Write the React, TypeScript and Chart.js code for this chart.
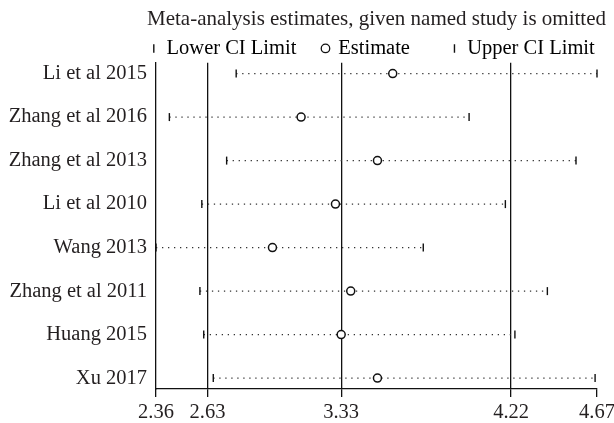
import React, { useEffect, useRef } from "react";
import { Chart, registerables } from "chart.js";

Chart.register(...registerables);

const studies = [
  "Li et al 2015",
  "Zhang et al 2016",
  "Zhang et al 2013",
  "Li et al 2010",
  "Wang 2013",
  "Zhang et al 2011",
  "Huang 2015",
  "Xu 2017",
];
const lowerCI = [2.78, 2.43, 2.73, 2.6, 2.36, 2.59, 2.61, 2.66];
const estimate = [3.6, 3.12, 3.52, 3.3, 2.97, 3.38, 3.33, 3.52];
const upperCI = [4.67, 4.0, 4.56, 4.19, 3.76, 4.41, 4.24, 4.66];
const xTicks = [2.36, 2.63, 3.33, 4.22, 4.67];
const refLines = [2.63, 3.33, 4.22];
const titleText = "Meta-analysis estimates, given named study is omitted";
const legendLabels = ["Lower CI Limit", "Estimate", "Upper CI Limit"];

const FONT = "'Liberation Serif', 'Times New Roman', serif";
const TEXT = "#231f20";

const legendTrim = {
  id: "legendTrim",
  beforeLayout(chart: any) {
    const lg: any = chart.legend;
    if (lg && !lg.__trimmed) {
      const orig = lg.fit.bind(lg);
      lg.fit = () => {
        orig();
        lg.height = Math.max(0, lg.height - 6);
      };
      lg.__trimmed = true;
    }
  },
};

export default function App() {
  const ref = useRef<HTMLCanvasElement | null>(null);

  useEffect(() => {
    if (!ref.current) return;
    const rowIdx = studies.map((_, i) => i);

    const dotted = rowIdx.map((i) => ({
      type: "line" as const,
      label: "ci-" + i,
      data: [
        { x: lowerCI[i], y: i },
        { x: upperCI[i], y: i },
      ],
      borderColor: "#333",
      borderWidth: 1.3,
      borderDash: [1.3, 4.7],
      pointRadius: 0,
      fill: false,
      order: 2,
    }));

    const chart = new Chart(ref.current, {
      type: "scatter",
      plugins: [legendTrim as any],
      data: {
        datasets: [
          {
            label: legendLabels[0],
            data: rowIdx.map((i) => ({ x: lowerCI[i], y: i })),
            pointStyle: "line",
            rotation: 90,
            radius: 4,
            borderColor: "#111",
            borderWidth: 1.4,
            clip: false as any,
            order: 0,
          },
          {
            label: legendLabels[1],
            data: rowIdx.map((i) => ({ x: estimate[i], y: i })),
            pointStyle: "circle",
            radius: 4,
            backgroundColor: "#fff",
            borderColor: "#111",
            borderWidth: 1.5,
            clip: false as any,
            order: 0,
          },
          {
            label: legendLabels[2],
            data: rowIdx.map((i) => ({ x: upperCI[i], y: i })),
            pointStyle: "line",
            rotation: 90,
            radius: 4,
            borderColor: "#111",
            borderWidth: 1.4,
            clip: false as any,
            order: 0,
          },
          ...(dotted as any[]),
        ],
      },
      options: {
        animation: false,
        responsive: false,
        events: [],
        layout: { padding: { left: 0, top: 0, bottom: 0, right: 8 } },
        plugins: {
          tooltip: { enabled: false },
          title: {
            display: true,
            text: titleText,
            fullSize: true,
            align: "end",
            color: TEXT,
            font: { family: FONT, size: 21, weight: "normal" as any, lineHeight: 1.2 },
            padding: { top: 7, bottom: 5 },
          },
          legend: {
            display: true,
            position: "top",
            align: "end",
            fullSize: true,
            labels: {
              usePointStyle: true,
              boxWidth: 5,
              boxHeight: 6,
              padding: 1,
              color: TEXT,
              font: { family: FONT, size: 20.5 },
              generateLabels: () => [
                {
                  text: legendLabels[0] + "     ",
                  pointStyle: "line",
                  rotation: 90,
                  strokeStyle: "#111",
                  fillStyle: "#111",
                  lineWidth: 1.4,
                  datasetIndex: 0,
                  hidden: false,
                } as any,
                {
                  text: legendLabels[1] + "        ",
                  pointStyle: "circle",
                  rotation: 0,
                  strokeStyle: "#111",
                  fillStyle: "#fff",
                  lineWidth: 1.3,
                  datasetIndex: 1,
                  hidden: false,
                } as any,
                {
                  text: legendLabels[2] + "  ",
                  pointStyle: "line",
                  rotation: 90,
                  strokeStyle: "#111",
                  fillStyle: "#111",
                  lineWidth: 1.4,
                  datasetIndex: 2,
                  hidden: false,
                } as any,
              ],
            },
          },
        },
        scales: {
          x: {
            type: "linear",
            min: xTicks[0],
            max: xTicks[xTicks.length - 1],
            afterBuildTicks: (scale: any) => {
              scale.ticks = xTicks.map((v) => ({ value: v }));
            },
            afterFit: (scale: any) => {
              scale.paddingRight = 17;
              scale.height = 34;
            },
            ticks: {
              autoSkip: false,
              maxRotation: 0,
              padding: 3,
              color: TEXT,
              font: { family: FONT, size: 20.5 },
              callback: (v: any) => Number(v).toFixed(2),
            },
            grid: {
              drawOnChartArea: true,
              drawTicks: true,
              tickLength: 8,
              lineWidth: 1.3,
              tickWidth: 1.3,
              color: (ctx: any) =>
                ctx.tick && refLines.includes(Number(ctx.tick.value)) ? "#111" : "rgba(0,0,0,0)",
              tickColor: "#111",
            },
            border: { display: true, color: "#111", width: 1.3 },
          },
          y: {
            type: "linear",
            reverse: true,
            min: -0.25,
            max: studies.length - 0.75,
            afterBuildTicks: (scale: any) => {
              scale.ticks = rowIdx.map((v) => ({ value: v }));
            },
            afterFit: (scale: any) => {
              scale.width = 156;
              scale.paddingTop = 0;
              scale.paddingBottom = 0;
            },
            ticks: {
              autoSkip: false,
              padding: 9,
              color: TEXT,
              font: { family: FONT, size: 20.5 },
              callback: (v: any) => studies[Number(v)] ?? "",
            },
            grid: { display: false, drawTicks: false },
            border: { display: true, color: "#111", width: 1.3 },
          },
        },
      } as any,
    });

    return () => chart.destroy();
  }, []);

  return (
    <div style={{ position: "absolute", left: 0, top: 0, width: 614, height: 423, background: "#fff" }}>
      <canvas ref={ref} width={614} height={423} style={{ width: 614, height: 423, display: "block" }} />
    </div>
  );
}
